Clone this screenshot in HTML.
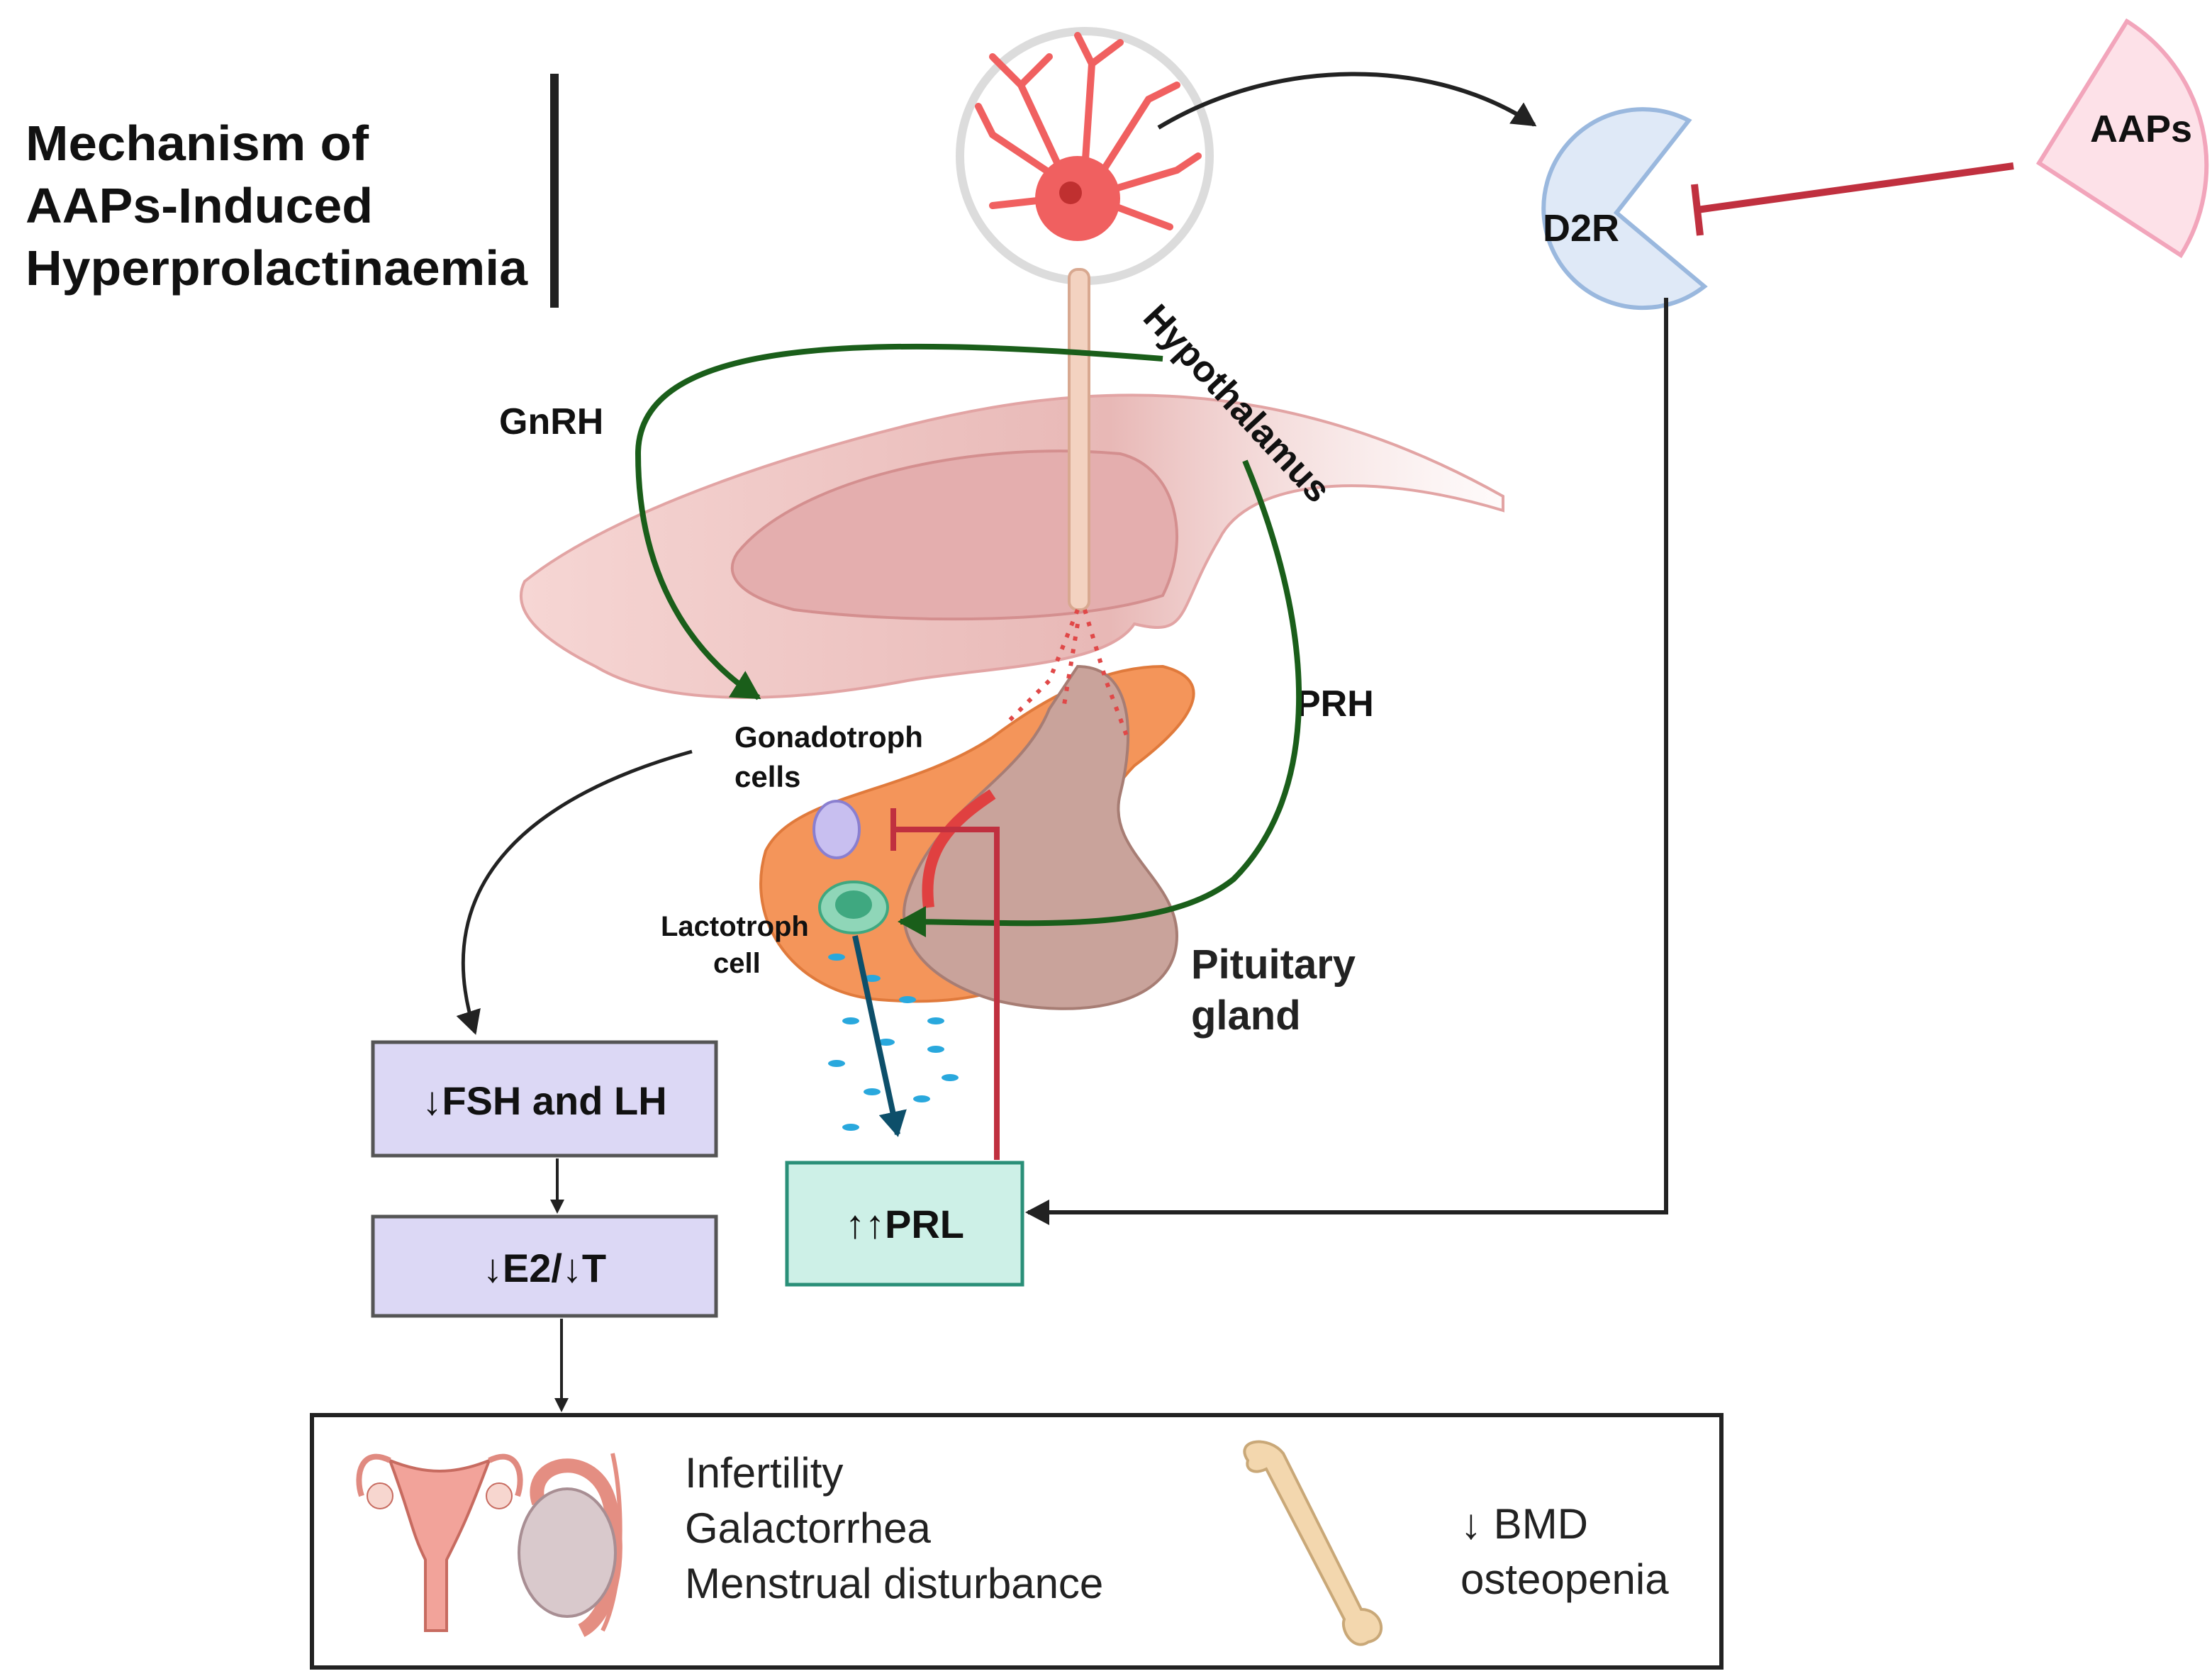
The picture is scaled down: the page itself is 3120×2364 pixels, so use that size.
<!DOCTYPE html>
<html><head><meta charset="utf-8"><style>
html,body{margin:0;padding:0;background:#fff;}
svg{display:block;}
text{font-family:"Liberation Sans",sans-serif;}
</style></head><body>
<svg width="3120" height="2364" viewBox="0 0 1560 1182" xmlns="http://www.w3.org/2000/svg">
<defs>
<marker id="ak" markerWidth="10" markerHeight="10" refX="8" refY="5" orient="auto" markerUnits="userSpaceOnUse"><path d="M0,0 L10,5 L0,10 Z" fill="#222"/></marker>
<marker id="ag" markerWidth="22" markerHeight="22" refX="18" refY="11" orient="auto" markerUnits="userSpaceOnUse"><path d="M0,0 L20,11 L0,22 Z" fill="#1a5e1a"/></marker>
<marker id="ab" markerWidth="20" markerHeight="20" refX="16" refY="10" orient="auto" markerUnits="userSpaceOnUse"><path d="M0,0 L18,10 L0,20 Z" fill="#0d4f6a"/></marker>
<marker id="ak2" markerWidth="18" markerHeight="18" refX="15" refY="9" orient="auto" markerUnits="userSpaceOnUse"><path d="M0,0 L17,9 L0,18 Z" fill="#222"/></marker>
<linearGradient id="hg" x1="0" y1="0" x2="1" y2="0"><stop offset="0" stop-color="#f6d6d4"/><stop offset="0.6" stop-color="#e8b8b6"/><stop offset="1" stop-color="#fbeeee" stop-opacity="0.3"/></linearGradient>
</defs>
<!-- title -->
<text x="18" y="113" font-size="35" font-weight="bold" fill="#111" textLength="242" lengthAdjust="spacingAndGlyphs">Mechanism of</text>
<text x="18" y="157" font-size="35" font-weight="bold" fill="#111" textLength="245" lengthAdjust="spacingAndGlyphs">AAPs-Induced</text>
<text x="18" y="201" font-size="35" font-weight="bold" fill="#111" textLength="354" lengthAdjust="spacingAndGlyphs">Hyperprolactinaemia</text>
<rect x="388" y="52" width="6" height="165" fill="#222"/>
<!-- hypothalamus band -->
<path d="M370,410 C420,370 520,330 640,300 C760,270 900,260 1060,350 L1060,360 C960,330 880,340 860,380 C830,430 840,450 800,440 C780,470 700,470 640,480 C560,495 470,500 420,470 C380,450 360,430 370,410 Z" fill="url(#hg)" stroke="#e2a4a4" stroke-width="2"/>
<path d="M520,390 C560,340 680,310 790,320 C830,330 840,380 820,420 C760,440 640,440 560,430 C520,420 510,405 520,390 Z" fill="#e4aeae" stroke="#d48f8f" stroke-width="2"/>
<!-- pituitary -->
<path d="M540,600 C560,560 640,560 700,520 C740,490 780,470 820,470 C860,480 840,510 800,540 C780,560 760,600 760,650 C740,700 680,710 620,705 C560,700 525,650 540,600 Z" fill="#f4955a" stroke="#e07a3c" stroke-width="2"/>
<path d="M760,470 C800,470 800,520 790,560 C780,600 830,620 830,660 C830,710 760,720 700,705 C650,690 630,660 640,630 C660,570 720,550 740,500 Z" fill="#c9a39b" stroke="#a77d74" stroke-width="2"/>
<path d="M655,640 C650,600 670,580 700,560" fill="none" stroke="#e04040" stroke-width="8"/>
<!-- neuron -->
<circle cx="765" cy="110" r="88" fill="#fff" stroke="#dcdcdc" stroke-width="6"/>
<g stroke="#f06060" stroke-width="5" fill="none" stroke-linecap="round">
<path d="M755,135 L720,60 L700,40"/><path d="M745,125 L700,95 L690,75"/><path d="M765,120 L770,45 L760,25"/><path d="M775,125 L810,70 L830,60"/><path d="M780,135 L830,120 L845,110"/><path d="M745,140 L700,145"/><path d="M785,145 L825,160"/><path d="M720,60 L740,40"/><path d="M770,45 L790,30"/>
</g>
<ellipse cx="760" cy="140" rx="30" ry="30" fill="#f06060"/>
<circle cx="755" cy="136" r="8" fill="#c03030"/>
<rect x="754" y="190" width="14" height="240" rx="6" fill="#f3d2c0" stroke="#d8a890" stroke-width="2"/>
<g stroke="#e04848" stroke-width="3" stroke-dasharray="3 6" fill="none">
<path d="M760,430 L740,480 L710,510"/><path d="M765,430 L780,480 L795,520"/><path d="M760,440 L750,500"/>
</g>
<!-- cells -->
<ellipse cx="590" cy="585" rx="16" ry="20" fill="#c8bff0" stroke="#8a7fd0" stroke-width="2"/>
<ellipse cx="602" cy="640" rx="24" ry="18" fill="#8fd6b8" stroke="#3fa880" stroke-width="2"/>
<ellipse cx="602" cy="638" rx="13" ry="10" fill="#3fa880"/>
<g fill="#29a8dd">
<ellipse cx="590" cy="675" rx="6" ry="2.5"/><ellipse cx="615" cy="690" rx="6" ry="2.5"/><ellipse cx="640" cy="705" rx="6" ry="2.5"/><ellipse cx="600" cy="720" rx="6" ry="2.5"/><ellipse cx="625" cy="735" rx="6" ry="2.5"/><ellipse cx="660" cy="740" rx="6" ry="2.5"/><ellipse cx="590" cy="750" rx="6" ry="2.5"/><ellipse cx="615" cy="770" rx="6" ry="2.5"/><ellipse cx="650" cy="775" rx="6" ry="2.5"/><ellipse cx="600" cy="795" rx="6" ry="2.5"/><ellipse cx="660" cy="720" rx="6" ry="2.5"/><ellipse cx="670" cy="760" rx="6" ry="2.5"/>
</g>
<!-- labels -->
<text x="352" y="306" font-size="26" font-weight="bold" fill="#111">GnRH</text>
<text x="914" y="505" font-size="26" font-weight="bold" fill="#111">PRH</text>
<text x="0" y="0" font-size="26" font-weight="bold" fill="#111" transform="translate(805,225) rotate(47)">Hypothalamus</text>
<text x="518" y="527" font-size="21" font-weight="bold" fill="#111">Gonadotroph</text>
<text x="518" y="555" font-size="21" font-weight="bold" fill="#111">cells</text>
<text x="466" y="660" font-size="20" font-weight="bold" fill="#111">Lactotroph</text>
<text x="503" y="686" font-size="20" font-weight="bold" fill="#111">cell</text>
<text x="840" y="690" font-size="29" font-weight="bold" fill="#222">Pituitary</text>
<text x="840" y="726" font-size="29" font-weight="bold" fill="#222">gland</text>
<!-- green arrows -->
<path d="M820,253 C600,235 450,240 450,320 C450,420 500,470 535,492" fill="none" stroke="#1a5e1a" stroke-width="4" marker-end="url(#ag)"/>
<path d="M878,325 C930,450 930,560 870,620 C820,660 720,650 635,650" fill="none" stroke="#1a5e1a" stroke-width="4" marker-end="url(#ag)"/>
<!-- D2R -->
<path d="M1191,85 A70,70 0 1 0 1202,202 L1140,150 Z" fill="#dfe9f7" stroke="#9ab8de" stroke-width="3"/>
<text x="1088" y="170" font-size="27" font-weight="bold" fill="#111">D2R</text>
<!-- AAPs -->
<path d="M1500,15 L1438,115 L1538,180 A120,120 0 0 0 1500,15 Z" fill="#fde1e8" stroke="#f2a5bb" stroke-width="3"/>
<text x="1474" y="100" font-size="27" font-weight="bold" fill="#111">AAPs</text>
<line x1="1420" y1="117" x2="1197" y2="148" stroke="#c0303f" stroke-width="5"/>
<line x1="1195" y1="130" x2="1199" y2="166" stroke="#c0303f" stroke-width="5"/>
<!-- neuron -> D2R -->
<path d="M817,90 C900,40 1010,40 1082,88" fill="none" stroke="#222" stroke-width="3" marker-end="url(#ak2)"/>
<!-- D2R -> PRL -->
<path d="M1175,210 L1175,855 L725,855" fill="none" stroke="#222" stroke-width="3" marker-end="url(#ak2)"/>
<!-- PRL feedback -->
<path d="M703,818 L703,585 L630,585" fill="none" stroke="#c0303f" stroke-width="4"/>
<line x1="630" y1="570" x2="630" y2="600" stroke="#c0303f" stroke-width="4"/>
<!-- lactotroph -> PRL -->
<line x1="603" y1="660" x2="633" y2="800" stroke="#0d4f6a" stroke-width="4" marker-end="url(#ab)"/>
<!-- gonadotroph -> FSH -->
<path d="M488,530 C380,560 300,620 335,728" fill="none" stroke="#222" stroke-width="2.5" marker-end="url(#ak2)"/>
<!-- boxes -->
<rect x="263" y="735" width="242" height="80" fill="#dcd8f5" stroke="#555" stroke-width="2.5"/>
<text x="384" y="786" font-size="28" font-weight="bold" fill="#111" text-anchor="middle">↓FSH and LH</text>
<line x1="393" y1="817" x2="393" y2="854" stroke="#222" stroke-width="2" marker-end="url(#ak)"/>
<rect x="263" y="858" width="242" height="70" fill="#dcd8f5" stroke="#555" stroke-width="2.5"/>
<text x="384" y="904" font-size="28" font-weight="bold" fill="#111" text-anchor="middle">↓E2/↓T</text>
<line x1="396" y1="930" x2="396" y2="994" stroke="#222" stroke-width="2" marker-end="url(#ak)"/>
<rect x="555" y="820" width="166" height="86" fill="#cdf0e7" stroke="#2a8f78" stroke-width="2.5"/>
<text x="638" y="873" font-size="28" font-weight="bold" fill="#111" text-anchor="middle">↑↑PRL</text>
<!-- bottom box -->
<rect x="220" y="998" width="994" height="178" fill="#fff" stroke="#222" stroke-width="3"/>
<!-- uterus -->
<path d="M275,1030 C290,1070 290,1080 300,1100 L300,1150 L315,1150 L315,1100 C325,1080 330,1070 345,1030 C320,1040 300,1040 275,1030 Z" fill="#f2a39a" stroke="#c76b60" stroke-width="2"/>
<path d="M275,1030 C255,1020 250,1040 255,1055 M345,1030 C365,1020 370,1040 365,1055" fill="none" stroke="#e08a80" stroke-width="4"/>
<circle cx="268" cy="1055" r="9" fill="#f7d6cf" stroke="#c76b60"/><circle cx="352" cy="1055" r="9" fill="#f7d6cf" stroke="#c76b60"/>
<!-- testis -->
<path d="M380,1060 C370,1030 420,1020 430,1060 C440,1100 430,1140 410,1150" fill="none" stroke="#e48e82" stroke-width="10"/>
<ellipse cx="400" cy="1095" rx="34" ry="45" fill="#d9c9cc" stroke="#a88e93" stroke-width="2"/>
<path d="M432,1025 C440,1060 440,1120 425,1150" fill="none" stroke="#e48e82" stroke-width="3"/>
<text x="483" y="1049" font-size="30" fill="#222">Infertility</text>
<text x="483" y="1088" font-size="30" fill="#222">Galactorrhea</text>
<text x="483" y="1127" font-size="30" fill="#222">Menstrual disturbance</text>
<!-- bone -->
<path d="M880,1030 C870,1015 895,1012 905,1025 L960,1135 C975,1135 980,1155 965,1158 C955,1165 945,1150 948,1142 L893,1036 C885,1040 878,1037 880,1030 Z" fill="#f3d7ae" stroke="#c9a878" stroke-width="2"/>
<text x="1030" y="1085" font-size="30" fill="#222">↓ BMD</text>
<text x="1030" y="1124" font-size="30" fill="#222">osteopenia</text>
</svg>
</body></html>
